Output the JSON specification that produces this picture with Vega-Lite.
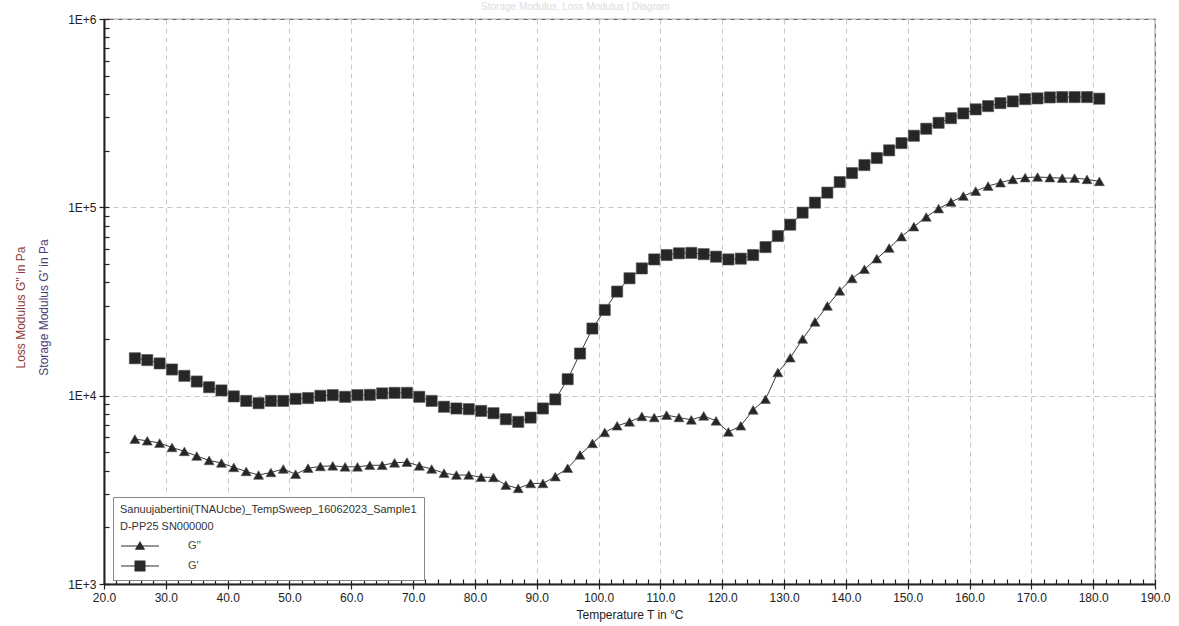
{
  "$schema": "https://vega.github.io/schema/vega-lite/v6.json",
  "autosize": "none",
  "width": 1051,
  "height": 565,
  "padding": {"left": 104, "top": 19, "right": 24, "bottom": 42},
  "background": "white",
  "config": {
    "font": "Liberation Sans",
    "view": {"stroke": "#666", "strokeWidth": 1.2}
  },
  "title": {"text": "Storage Modulus, Loss Modulus | Diagram", "fontSize": 10, "fontWeight": "normal", "color": "#dcdcdc", "anchor": "middle", "frame": "group", "dx": -54, "offset": 1},
  "data": {"values": [
    {"T":25,"series":"G'","value":15800},{"T":27,"series":"G'","value":15450},{"T":29,"series":"G'","value":14830},{"T":31,"series":"G'","value":13770},{"T":33,"series":"G'","value":12740},{"T":35,"series":"G'","value":11890},{"T":37,"series":"G'","value":11090},{"T":39,"series":"G'","value":10660},{"T":41,"series":"G'","value":9910},{"T":43,"series":"G'","value":9380},
    {"T":45,"series":"G'","value":9120},{"T":47,"series":"G'","value":9380},{"T":49,"series":"G'","value":9380},{"T":51,"series":"G'","value":9620},{"T":53,"series":"G'","value":9710},{"T":55,"series":"G'","value":9980},{"T":57,"series":"G'","value":10070},{"T":59,"series":"G'","value":9860},{"T":61,"series":"G'","value":10070},{"T":63,"series":"G'","value":10100},
    {"T":65,"series":"G'","value":10280},{"T":67,"series":"G'","value":10350},{"T":69,"series":"G'","value":10350},{"T":71,"series":"G'","value":9860},{"T":73,"series":"G'","value":9380},{"T":75,"series":"G'","value":8730},{"T":77,"series":"G'","value":8550},{"T":79,"series":"G'","value":8480},{"T":81,"series":"G'","value":8300},{"T":83,"series":"G'","value":8070},
    {"T":85,"series":"G'","value":7500},{"T":87,"series":"G'","value":7260},{"T":89,"series":"G'","value":7650},{"T":91,"series":"G'","value":8550},{"T":93,"series":"G'","value":9550},{"T":95,"series":"G'","value":12230},{"T":97,"series":"G'","value":16740},{"T":99,"series":"G'","value":22720},{"T":101,"series":"G'","value":28510},{"T":103,"series":"G'","value":35700},
    {"T":105,"series":"G'","value":42000},{"T":107,"series":"G'","value":47400},{"T":109,"series":"G'","value":52900},{"T":111,"series":"G'","value":55800},{"T":113,"series":"G'","value":57000},{"T":115,"series":"G'","value":57300},{"T":117,"series":"G'","value":56400},{"T":119,"series":"G'","value":54700},{"T":121,"series":"G'","value":52900},{"T":123,"series":"G'","value":53400},
    {"T":125,"series":"G'","value":55800},{"T":127,"series":"G'","value":61500},{"T":129,"series":"G'","value":70400},{"T":131,"series":"G'","value":80900},{"T":133,"series":"G'","value":93700},{"T":135,"series":"G'","value":105900},{"T":137,"series":"G'","value":119700},{"T":139,"series":"G'","value":136200},{"T":141,"series":"G'","value":152000},{"T":143,"series":"G'","value":167600},
    {"T":145,"series":"G'","value":182700},{"T":147,"series":"G'","value":200700},{"T":149,"series":"G'","value":219300},{"T":151,"series":"G'","value":239900},{"T":153,"series":"G'","value":261400},{"T":155,"series":"G'","value":281100},{"T":157,"series":"G'","value":297600},{"T":159,"series":"G'","value":315300},{"T":161,"series":"G'","value":331300},{"T":163,"series":"G'","value":344700},
    {"T":165,"series":"G'","value":357500},{"T":167,"series":"G'","value":365100},{"T":169,"series":"G'","value":375500},{"T":171,"series":"G'","value":378800},{"T":173,"series":"G'","value":383400},{"T":175,"series":"G'","value":384900},{"T":177,"series":"G'","value":384900},{"T":179,"series":"G'","value":384900},{"T":181,"series":"G'","value":377500},
    {"T":25,"series":"G''","value":5880},{"T":27,"series":"G''","value":5760},{"T":29,"series":"G''","value":5600},{"T":31,"series":"G''","value":5310},{"T":33,"series":"G''","value":5060},{"T":35,"series":"G''","value":4780},{"T":37,"series":"G''","value":4530},{"T":39,"series":"G''","value":4390},{"T":41,"series":"G''","value":4160},{"T":43,"series":"G''","value":3960},
    {"T":45,"series":"G''","value":3790},{"T":47,"series":"G''","value":3910},{"T":49,"series":"G''","value":4080},{"T":51,"series":"G''","value":3830},{"T":53,"series":"G''","value":4120},{"T":55,"series":"G''","value":4210},{"T":57,"series":"G''","value":4240},{"T":59,"series":"G''","value":4190},{"T":61,"series":"G''","value":4190},{"T":63,"series":"G''","value":4270},
    {"T":65,"series":"G''","value":4270},{"T":67,"series":"G''","value":4400},{"T":69,"series":"G''","value":4440},{"T":71,"series":"G''","value":4240},{"T":73,"series":"G''","value":4080},{"T":75,"series":"G''","value":3880},{"T":77,"series":"G''","value":3790},{"T":79,"series":"G''","value":3790},{"T":81,"series":"G''","value":3690},{"T":83,"series":"G''","value":3680},
    {"T":85,"series":"G''","value":3350},{"T":87,"series":"G''","value":3220},{"T":89,"series":"G''","value":3420},{"T":91,"series":"G''","value":3420},{"T":93,"series":"G''","value":3720},{"T":95,"series":"G''","value":4120},{"T":97,"series":"G''","value":4850},{"T":99,"series":"G''","value":5580},{"T":101,"series":"G''","value":6380},{"T":103,"series":"G''","value":6920},
    {"T":105,"series":"G''","value":7260},{"T":107,"series":"G''","value":7760},{"T":109,"series":"G''","value":7660},{"T":111,"series":"G''","value":7880},{"T":113,"series":"G''","value":7660},{"T":115,"series":"G''","value":7440},{"T":117,"series":"G''","value":7810},{"T":119,"series":"G''","value":7350},{"T":121,"series":"G''","value":6420},{"T":123,"series":"G''","value":6920},
    {"T":125,"series":"G''","value":8410},{"T":127,"series":"G''","value":9570},{"T":129,"series":"G''","value":13280},{"T":131,"series":"G''","value":15900},{"T":133,"series":"G''","value":20000},{"T":135,"series":"G''","value":24650},{"T":137,"series":"G''","value":29950},{"T":139,"series":"G''","value":36000},{"T":141,"series":"G''","value":41900},{"T":143,"series":"G''","value":46900},
    {"T":145,"series":"G''","value":53400},{"T":147,"series":"G''","value":60800},{"T":149,"series":"G''","value":69900},{"T":151,"series":"G''","value":79000},{"T":153,"series":"G''","value":88900},{"T":155,"series":"G''","value":98500},{"T":157,"series":"G''","value":106700},{"T":159,"series":"G''","value":114800},{"T":161,"series":"G''","value":122000},{"T":163,"series":"G''","value":129700},
    {"T":165,"series":"G''","value":135200},{"T":167,"series":"G''","value":140800},{"T":169,"series":"G''","value":143800},{"T":171,"series":"G''","value":144900},{"T":173,"series":"G''","value":143800},{"T":175,"series":"G''","value":142900},{"T":177,"series":"G''","value":142900},{"T":179,"series":"G''","value":140800},{"T":181,"series":"G''","value":137400}
  ]},
  "layer": [
    {
      "mark": {"type": "line", "color": "#3a3a3a", "strokeWidth": 1},
      "encoding": {
        "x": {"field": "T", "type": "quantitative",
          "scale": {"domain": [20, 190], "nice": false, "zero": false},
          "axis": {"orient": "bottom", "values": [20,30,40,50,60,70,80,90,100,110,120,130,140,150,160,170,180,190], "format": ".1f",
            "title": "Temperature T in °C", "titleFontSize": 12, "titleFontWeight": "normal", "titleColor": "#222", "titlePadding": 6,
            "labelFontSize": 12, "labelColor": "#222", "labelPadding": 3, "labelFlush": false,
            "tickSize": 5, "tickColor": "#222", "tickWidth": 1.2,
            "domainColor": "#222", "domainWidth": 2,
            "grid": true, "gridDash": [5, 4], "gridColor": "#c8c8c8", "gridWidth": 1}},
        "y": {"field": "value", "type": "quantitative",
          "scale": {"type": "log", "domain": [1000, 1000000], "nice": false},
          "axis": {"orient": "left", "values": [1000, 10000, 100000, 1000000], "labelExpr": "'1E+' + round(log(datum.value)/LN10)",
            "title": "Storage Modulus G' in Pa", "titleFontSize": 12, "titleFontWeight": "normal", "titleColor": "#4a3d7a",
            "titleX": -61, "titleY": 288, "titleAngle": -90, "titleAlign": "center", "titleBaseline": "middle",
            "labelFontSize": 12, "labelColor": "#222", "labelPadding": 3, "labelFlush": false,
            "tickSize": 5, "tickColor": "#222", "tickWidth": 1.2,
            "domainColor": "#222", "domainWidth": 2,
            "grid": true, "gridDash": [5, 4], "gridColor": "#c8c8c8", "gridWidth": 1}},
        "detail": {"field": "series", "type": "nominal"}
      }
    },
    {
      "transform": [{"filter": "datum.series === \"G''\""}],
      "mark": {"type": "point", "shape": "triangle-up", "filled": true, "opacity": 1, "size": 100, "fill": "#262626", "stroke": "#555", "strokeWidth": 0.6},
      "encoding": {
        "x": {"field": "T", "type": "quantitative",
          "scale": {"domain": [20, 190], "nice": false, "zero": false},
          "axis": {"orient": "bottom", "values": [20,22,24,26,28,30,32,34,36,38,40,42,44,46,48,50,52,54,56,58,60,62,64,66,68,70,72,74,76,78,80,82,84,86,88,90,92,94,96,98,100,102,104,106,108,110,112,114,116,118,120,122,124,126,128,130,132,134,136,138,140,142,144,146,148,150,152,154,156,158,160,162,164,166,168,170,172,174,176,178,180,182,184,186,188,190],
            "labels": false, "title": null, "domain": false, "grid": false, "tickSize": -5, "tickColor": "#222", "tickWidth": 1.2}},
        "y": {"field": "value", "type": "quantitative",
          "scale": {"type": "log", "domain": [1000, 1000000], "nice": false},
          "axis": {"orient": "left", "values": [1000,2000,3000,4000,5000,6000,7000,8000,9000,10000,20000,30000,40000,50000,60000,70000,80000,90000,100000,200000,300000,400000,500000,600000,700000,800000,900000,1000000],
            "labels": false, "domain": false, "grid": false, "tickSize": -5, "tickColor": "#222", "tickWidth": 1.2,
            "title": "Loss Modulus G'' in Pa", "titleFontSize": 12, "titleFontWeight": "normal", "titleColor": "#8b3a3a",
            "titleX": -84, "titleY": 288, "titleAngle": -90, "titleAlign": "center", "titleBaseline": "middle"}}
      }
    },
    {
      "transform": [{"filter": "datum.series === \"G'\""}],
      "mark": {"type": "point", "shape": "square", "filled": true, "opacity": 1, "size": 125, "fill": "#262626", "stroke": "#555", "strokeWidth": 0.6},
      "encoding": {
        "x": {"field": "T", "type": "quantitative", "scale": {"domain": [20, 190], "nice": false, "zero": false}, "axis": null},
        "y": {"field": "value", "type": "quantitative", "scale": {"type": "log", "domain": [1000, 1000000], "nice": false}, "axis": null}
      }
    },
    {
      "transform": [{"filter": "datum.T > 1000"}],
      "mark": {"type": "point", "filled": true, "opacity": 1, "color": "#2a2a2a"},
      "encoding": {
        "x": {"field": "T", "type": "quantitative", "scale": {"domain": [20, 190], "nice": false, "zero": false}, "axis": null},
        "y": {"field": "value", "type": "quantitative", "scale": {"type": "log", "domain": [1000, 1000000], "nice": false}, "axis": null},
        "shape": {"field": "series", "type": "nominal",
          "scale": {"domain": ["G''", "G'"], "range": ["M-1,-0.03L1,-0.03L1,0.03L-1,0.03ZM0,-0.26L0.27,0.2L-0.27,0.2Z", "M-1,-0.03L1,-0.03L1,0.03L-1,0.03ZM-0.29,-0.29L0.29,-0.29L0.29,0.29L-0.29,0.29Z"]},
          "legend": {"orient": "none", "legendX": 9, "legendY": 478,
            "title": ["Sanuujabertini(TNAUcbe)_TempSweep_16062023_Sample1", "D-PP25 SN000000"],
            "titleFontWeight": "normal", "titleFontSize": 11, "titleColor": "#333", "titleLineHeight": 17, "titlePadding": 7, "titleLimit": 500,
            "padding": 7, "strokeColor": "#888", "fillColor": "white",
            "symbolSize": 1444, "clipHeight": 14, "rowPadding": 6, "labelOffset": 28,
            "labelFontSize": 11, "labelColor": "#444",
            "symbolFillColor": "#2a2a2a", "symbolOpacity": 1}}
      }
    }
  ],
  "resolve": {"axis": {"x": "independent", "y": "independent"}}
}
